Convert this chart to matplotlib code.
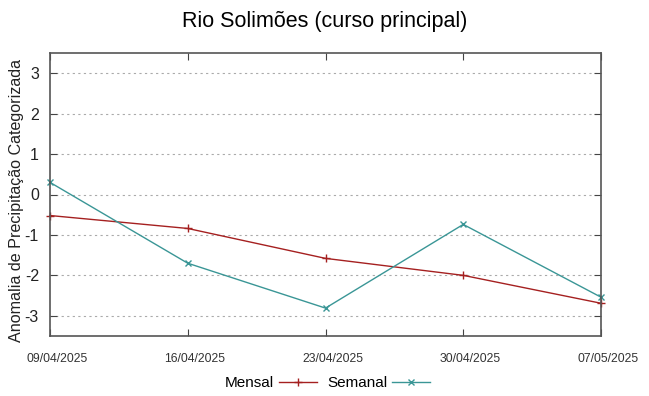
import matplotlib
matplotlib.use('Agg')
import matplotlib.pyplot as plt
import matplotlib.transforms as mtransforms

plt.rcParams['font.family'] = ['Liberation Sans', 'DejaVu Sans']

# dates and anomaly values
datas = ['09/04/2025', '16/04/2025', '23/04/2025', '30/04/2025', '07/05/2025']
mensal = [-0.52, -0.84, -1.58, -2.0, -2.69]
semanal = [0.30, -1.70, -2.81, -0.74, -2.54]
y_ticks = [-3, -2, -1, 0, 1, 2, 3]

fig = plt.figure(figsize=(6.49, 3.96), dpi=100)
ax = fig.add_axes([50 / 649, 1 - 336 / 396, 551 / 649, 283 / 396])

x = list(range(len(datas)))
ax.plot(x, mensal, color='#a52020', marker='+', markersize=6, linewidth=1,
        label='Mensal', clip_on=False)
ax.plot(x, semanal, color='#3a9696', marker='x', markersize=5, linewidth=1,
        label='Semanal', clip_on=False)

ax.set_xlim(0, len(datas) - 1)
ax.set_ylim(-3.5, 3.5)
ax.set_xticks(x)
ax.set_xticklabels(datas, fontsize=8.8, color='#333333')
ax.set_yticks(y_ticks)
ax.set_yticklabels([str(v) for v in y_ticks], fontsize=11.5, color='#222222')
ax.tick_params(direction='in', top=True, right=True, length=5, width=0.8,
               color='#444444', pad=8)
ax.tick_params(axis='x', pad=12)
ax.grid(axis='y', linestyle=(0, (2, 3)), color='#aaaaaa', linewidth=0.8)
for s in ax.spines.values():
    s.set_color('#555555')
    s.set_linewidth(1.2)

# date labels sit a little to the right of their ticks
shift = mtransforms.ScaledTranslation(7 / 100, 0, fig.dpi_scale_trans)
for lab in ax.get_xticklabels():
    lab.set_transform(lab.get_transform() + shift)

ax.set_ylabel('Anomalia de Precipitação Categorizada', fontsize=11.6,
              color='#222222')
ax.yaxis.set_label_coords(-0.047, 0.48)
fig.suptitle('Rio Solimões (curso principal)', fontsize=15.5, y=0.972)

leg = fig.legend(loc='center', bbox_to_anchor=(0.505, 0.033), ncol=2,
                 frameon=False, fontsize=11, markerfirst=False,
                 handlelength=2.5, columnspacing=0.7, handletextpad=0.3)

fig.savefig('out.png', dpi=100)
